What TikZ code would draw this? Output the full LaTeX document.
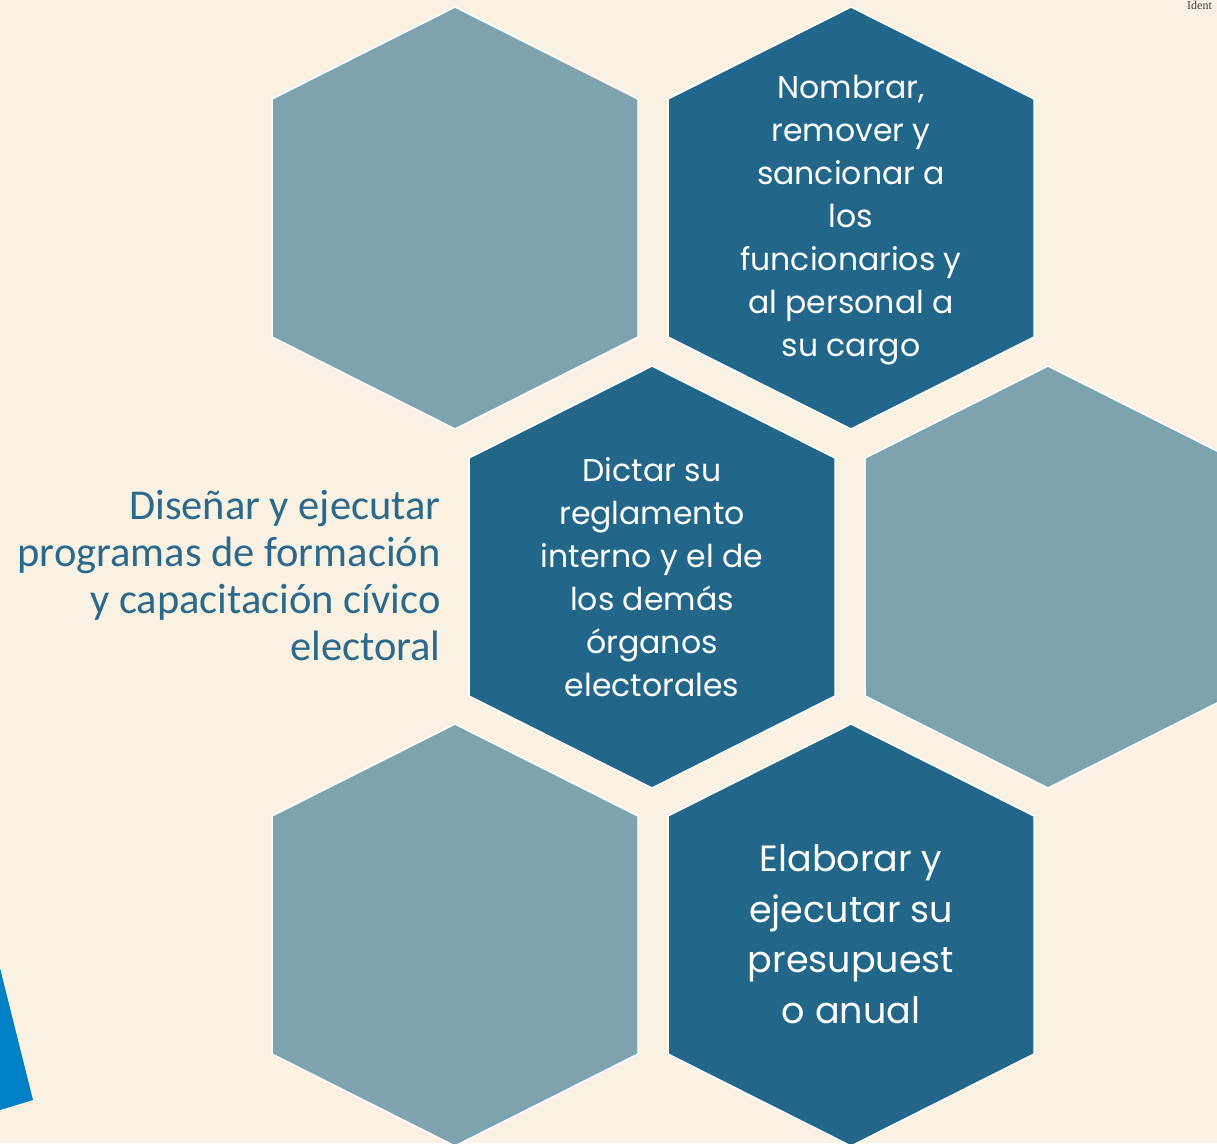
\documentclass[tikz,border=0pt]{standalone}
\usepackage{fontspec}
\setmainfont{Poppins}
\newfontfamily\calibrifont{Carlito}
\newfontfamily\serifont{Liberation Serif}
\usepackage{tikz}

\definecolor{fondo}{HTML}{F9F1E1}
\definecolor{hexclaro}{HTML}{7FA3AE}
\definecolor{hexoscuro}{HTML}{22678A}
\definecolor{textoazul}{HTML}{2A698C}
\definecolor{cuna}{HTML}{0080C6}

\tikzset{
	hexclara/.style={fill=hexclaro, draw=white, line width=1.5pt, line join=miter},
	hexoscura/.style={fill=hexoscuro, draw=white, line width=1.5pt, line join=miter},
	textohex/.style={text=white, align=center, font=\fontsize{31.5}{43}\selectfont},
	textolado/.style={text=textoazul, align=right, anchor=east, font=\calibrifont\fontsize{42.5}{47}\selectfont}
}

% hexagono de punta arriba, centro en (#1,#2)
\newcommand{\hexagono}[3]{
	\draw[#3, shift={(#1,#2)}] (0,-211) -- (183,-119) -- (183,119) -- (0,211)
		-- (-183,119) -- (-183,-119) -- cycle;
}

\begin{document}
\begin{tikzpicture}[x=1pt, y=-1pt]

% fondo y recorte
	\useasboundingbox (0,0) rectangle (1217,1143);
	\clip (0,0) rectangle (1217,1143);
	\fill[fondo] (0,0) rectangle (1217,1143);

% panal
	\hexagono{455}{218}{hexclara}
	\hexagono{851}{218}{hexoscura}
	\hexagono{652}{577}{hexoscura}
	\hexagono{1048}{577}{hexclara}
	\hexagono{455}{935}{hexclara}
	\hexagono{851}{935}{hexoscura}

% textos de los hexagonos
	\node[textohex] (nombrar) at (851,220)
		{Nombrar,\\remover y\\sancionar a\\los\\funcionarios y\\al personal a\\su cargo};
	\node[textohex] (dictar) at (652,577)
		{Dictar su\\reglamento\\interno y el de\\los demás\\órganos\\electorales};
	\node[textohex, font=\fontsize{36.5}{50.5}\selectfont] (elaborar) at (851,934)
		{Elaborar y\\ejecutar su\\presupuest\\o anual};

% texto a la izquierda
	\node[textolado] (disenar) at (444,576)
		{Diseñar y ejecutar\\programas de formación\\y capacitación cívico\\electoral};

% cuna azul abajo a la izquierda
	\fill[cuna] (0,968) -- (33,1100) -- (0,1110) -- cycle;

% texto arriba a la derecha
	\node[anchor=north west, inner sep=0pt, text=black!75, font=\serifont\fontsize{12}{12}\selectfont] (ident) at (1187,0.5) {Ident};

\end{tikzpicture}
\end{document}
